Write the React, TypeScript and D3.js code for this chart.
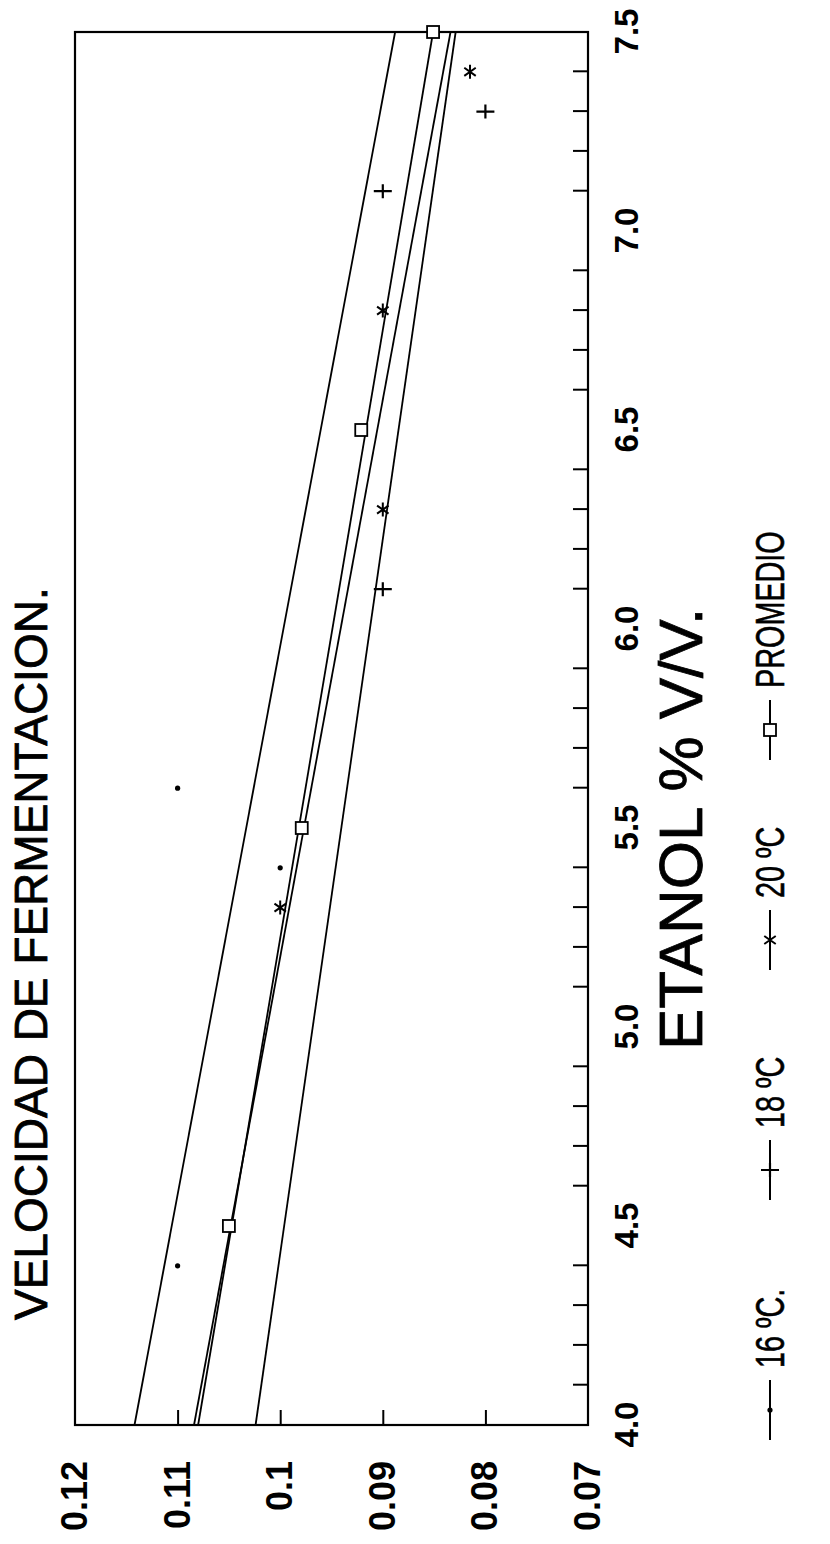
import React, { useEffect, useRef } from "react";
import * as d3 from "d3";

// ethanol (% v/v) axis and fermentation speed axis
const etanolTicks = [4.0, 4.5, 5.0, 5.5, 6.0, 6.5, 7.0, 7.5];
const etanolMinor = [4.1, 4.2, 4.3, 4.4, 4.6, 4.7, 4.8, 4.9, 5.1, 5.2, 5.3, 5.4, 5.6, 5.7, 5.8, 5.9, 6.1, 6.2, 6.3, 6.4, 6.6, 6.7, 6.8, 6.9, 7.1, 7.2, 7.3, 7.4];
const velTicks = [0.07, 0.08, 0.09, 0.1, 0.11, 0.12];
const velLabels = ["0.07", "0.08", "0.09", "0.1", "0.11", "0.12"];

// regression lines, evaluated at the ends of the ethanol range
const fitEtanol = [4.0, 7.5];
const fit16 = [0.1142, 0.0888];
const fit18 = [0.1024, 0.0829];
const fit20 = [0.1084, 0.0834];
const fitProm = [0.108, 0.0851];

// measured points
const pts16Etanol = [4.4, 5.4, 5.6];
const pts16Vel = [0.11, 0.1, 0.11];
const pts18Etanol = [6.1, 7.1, 7.3];
const pts18Vel = [0.09, 0.09, 0.08];
const pts20Etanol = [5.3, 6.3, 6.8, 7.4];
const pts20Vel = [0.1, 0.09, 0.09, 0.0815];
const promEtanol = [4.5, 5.5, 6.5, 7.5];
const promVel = [0.105, 0.0979, 0.0921, 0.0851];

const legendNames = ["16 ºC.", "18 ºC", "20 ºC", "PROMEDIO"];
const legendMarks = ["dot", "plus", "star", "square"];

const FONT = "'Liberation Sans', Arial, sans-serif";

const drawMark = (g, type, cx, cy) => {
  if (type === "dot") {
    g.append("circle").attr("cx", cx).attr("cy", cy).attr("r", 2.6).attr("fill", "#000");
  } else if (type === "plus") {
    g.append("path")
      .attr("d", `M${cx - 7},${cy}H${cx + 7}M${cx},${cy - 9}V${cy + 9}`)
      .attr("stroke", "#000").attr("stroke-width", 2.2).attr("fill", "none");
  } else if (type === "star") {
    const r = 7;
    const a = (Math.PI / 180) * 55;
    g.append("path")
      .attr("d",
        `M${cx - r},${cy}H${cx + r}` +
        `M${cx - r * Math.cos(a)},${cy - r * Math.sin(a)}L${cx + r * Math.cos(a)},${cy + r * Math.sin(a)}` +
        `M${cx - r * Math.cos(a)},${cy + r * Math.sin(a)}L${cx + r * Math.cos(a)},${cy - r * Math.sin(a)}`)
      .attr("stroke", "#000").attr("stroke-width", 2).attr("fill", "none");
  } else {
    g.append("rect").attr("x", cx - 6).attr("y", cy - 6).attr("width", 12).attr("height", 12)
      .attr("fill", "#fff").attr("stroke", "#000").attr("stroke-width", 1.8);
  }
};

const App = () => {
  const svgRef = useRef(null);

  useEffect(() => {
    const width = 830;
    const height = 1544;
    const W = 1393; // ethanol span (drawn upward after rotation)
    const H = 513; // speed span

    const svg = d3.select(svgRef.current).attr("width", width).attr("height", height);
    svg.selectAll("*").remove();

    // the whole chart is printed turned a quarter turn counter-clockwise
    const g = svg.append("g").attr("transform", "translate(75,1425) rotate(-90)");

    const x = d3.scaleLinear().domain([4, 7.5]).range([0, W]);
    const y = d3.scaleLinear().domain([0.07, 0.12]).range([H, 0]);

    // minor ticks along the ethanol axis, pointing inward
    const minor = g.append("g").attr("transform", `translate(0,${H})`)
      .call(d3.axisBottom(x).tickValues(etanolMinor).tickSizeInner(-15).tickSizeOuter(0).tickFormat(() => ""));
    minor.select(".domain").remove();
    minor.selectAll("line").attr("stroke", "#000").attr("stroke-width", 2);

    // ethanol labels
    const xAxis = g.append("g").attr("transform", `translate(0,${H})`)
      .call(d3.axisBottom(x).tickValues(etanolTicks).tickSize(0).tickPadding(27).tickFormat(d3.format(".1f")));
    xAxis.select(".domain").remove();
    xAxis.selectAll("text").attr("font-family", FONT).attr("font-size", 33).attr("font-weight", "bold").attr("fill", "#000");

    // speed ticks pointing inward
    const yTicks = g.append("g")
      .call(d3.axisLeft(y).tickValues(velTicks.slice(1, -1)).tickSizeInner(-15).tickSizeOuter(0).tickFormat(() => ""));
    yTicks.select(".domain").remove();
    yTicks.selectAll("line").attr("stroke", "#000").attr("stroke-width", 2);

    const yAxis = g.append("g")
      .call(d3.axisLeft(y).tickValues(velTicks).tickSize(0).tickPadding(36).tickFormat((d, i) => velLabels[i]));
    yAxis.select(".domain").remove();
    yAxis.selectAll("text").attr("font-family", FONT).attr("font-size", 36).attr("font-weight", "bold").attr("fill", "#000");

    // frame
    g.append("rect").attr("x", 0).attr("y", 0).attr("width", W).attr("height", H)
      .attr("fill", "none").attr("stroke", "#000").attr("stroke-width", 2.2);

    // regression lines
    const line = d3.line().x((d) => x(d[0])).y((d) => y(d[1]));
    [fit16, fit18, fit20, fitProm].forEach((fit) => {
      g.append("path")
        .attr("d", line(fitEtanol.map((e, i) => [e, fit[i]])))
        .attr("fill", "none").attr("stroke", "#000").attr("stroke-width", 1.8);
    });

    // points
    const pts = g.append("g");
    pts16Etanol.forEach((e, i) => drawMark(pts, "dot", x(e), y(pts16Vel[i])));
    pts18Etanol.forEach((e, i) => drawMark(pts, "plus", x(e), y(pts18Vel[i])));
    pts20Etanol.forEach((e, i) => drawMark(pts, "star", x(e), y(pts20Vel[i])));
    promEtanol.forEach((e, i) => drawMark(pts, "square", x(e), y(promVel[i])));

    // title
    g.append("text").attr("x", 105).attr("y", -28)
      .attr("font-family", FONT).attr("font-size", 46).attr("fill", "#000")
      .attr("stroke", "#000").attr("stroke-width", 0.8)
      .text("VELOCIDAD DE FERMENTACION.");

    // axis title
    g.append("text").attr("x", 375).attr("y", 627)
      .attr("font-family", FONT).attr("font-size", 62).attr("fill", "#000")
      .attr("stroke", "#000").attr("stroke-width", 0.8)
      .text("ETANOL % V/V.");

    // legend
    const legendX = [-15, 225, 455, 665];
    const lg = g.append("g").attr("transform", "translate(0,695)");
    legendNames.forEach((name, i) => {
      const u = legendX[i];
      lg.append("line").attr("x1", u).attr("x2", u + 60).attr("y1", 0).attr("y2", 0)
        .attr("stroke", "#000").attr("stroke-width", 2);
      drawMark(lg, legendMarks[i], u + 30, 0);
      lg.append("text")
        .attr("transform", `translate(${u + 72},14) scale(0.72,1)`)
        .attr("font-family", FONT).attr("font-size", 40).attr("fill", "#000")
        .attr("stroke", "#000").attr("stroke-width", 0.6)
        .text(name);
    });
  }, []);

  return (
    <svg ref={svgRef} style={{ position: "absolute", left: 0, top: 0, background: "#fff" }}></svg>
  );
};

export default App;
